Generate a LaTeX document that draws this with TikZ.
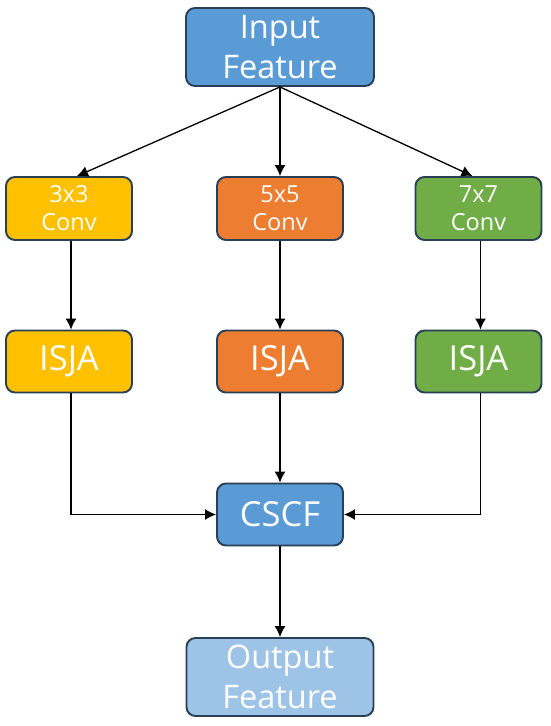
\documentclass[tikz,border=0pt]{standalone}
\usepackage{fontspec}
\setmainfont{Open Sans}
\usetikzlibrary{arrows.meta,calc}
\definecolor{bluebox}{HTML}{5B9BD5}
\definecolor{lightbluebox}{HTML}{9DC3E6}
\definecolor{yellowbox}{HTML}{FFC000}
\definecolor{orangebox}{HTML}{ED7D31}
\definecolor{greenbox}{HTML}{70AD47}
\definecolor{edgecol}{HTML}{283F55}
\begin{document}
\begin{tikzpicture}[x=1pt,y=-1pt,
  box/.style={draw=edgecol,line width=1.9pt,rounded corners=9pt,text=white,align=center,inner sep=0pt},
  bigbox/.style={box,minimum width=188pt,minimum height=78pt,font=\fontsize{32.5}{40}\selectfont},
  convbox/.style={box,minimum width=126pt,minimum height=63pt,font=\fontsize{23.5}{28}\selectfont},
  isjabox/.style={box,minimum width=126pt,minimum height=62pt,font=\fontsize{34.5}{38}\selectfont},
  arr/.style={draw=black,line width=1.3pt,-{Latex[length=11pt,width=11pt]}}]
\useasboundingbox (0,0) rectangle (550,726);
\fill[white] (0,0) rectangle (550,726);

\node[bigbox,fill=bluebox] (inp) at (280,47) {Input\\Feature};

\node[convbox,fill=yellowbox] (c3) at (69,208.5) {3x3\\Conv};
\node[convbox,fill=orangebox] (c5) at (280,208.5) {5x5\\Conv};
\node[convbox,fill=greenbox] (c7) at (478.5,208.5) {7x7\\Conv};

\node[isjabox,fill=yellowbox] (i3) at (69,361.5) {ISJA};
\node[isjabox,fill=orangebox] (i5) at (280,361.5) {ISJA};
\node[isjabox,fill=greenbox] (i7) at (478.5,361.5) {ISJA};

\node[isjabox,fill=bluebox] (cs) at (280,514.5) {CSCF};

\node[bigbox,fill=lightbluebox,minimum width=187pt] (out) at (280,677) {Output\\Feature};

\draw[arr] (inp.south) -- ([xshift=8pt]c3.north);
\draw[arr] (inp.south) -- (c5.north);
\draw[arr] (inp.south) -- ([xshift=-6pt]c7.north);

\draw[arr] ([xshift=2pt]c3.south) -- ([xshift=2pt]i3.north);
\draw[arr] (c5.south) -- (i5.north);
\draw[arr] ([xshift=2pt]c7.south) -- ([xshift=2pt]i7.north);

\draw[arr] ([xshift=2pt]i3.south) |- (cs.west);
\draw[arr] (i5.south) -- (cs.north);
\draw[arr] ([xshift=2pt]i7.south) |- (cs.east);

\draw[arr] (cs.south) -- (out.north);
\end{tikzpicture}
\end{document}
